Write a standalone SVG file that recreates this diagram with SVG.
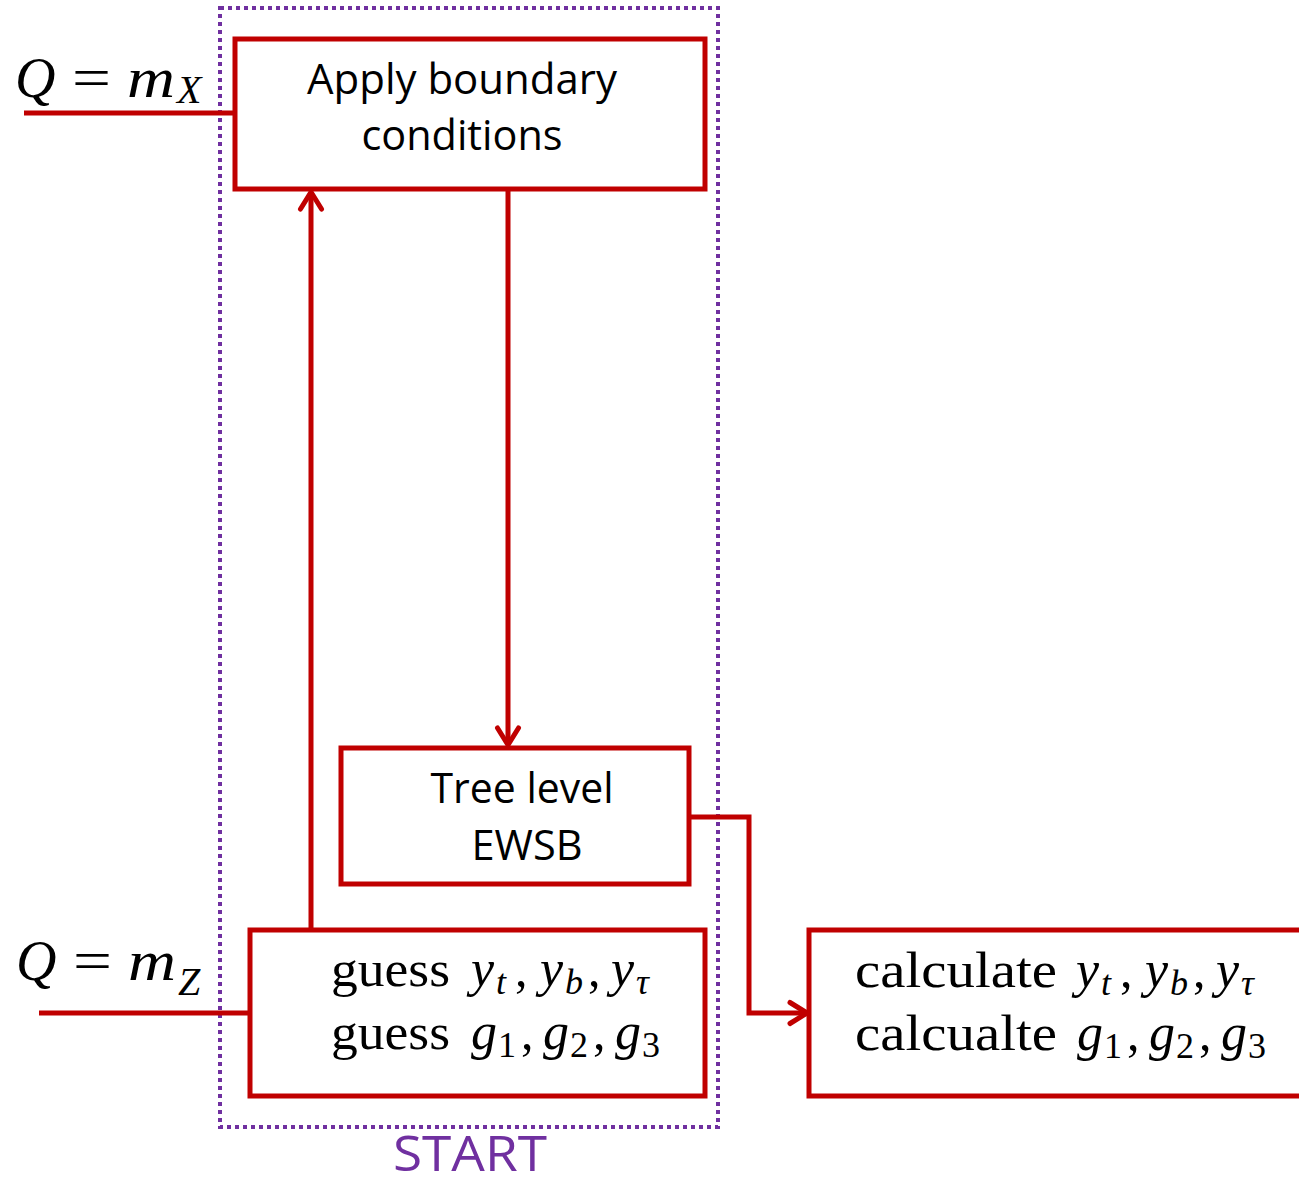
<svg xmlns="http://www.w3.org/2000/svg" width="1299" height="1186" viewBox="0 0 1299 1186">
  <defs>
    <style>
      .box { fill: #ffffff; stroke: #C00000; stroke-width: 5; }
      .wire { fill: none; stroke: #C00000; stroke-width: 5; }
      .head { fill: none; stroke: #C00000; stroke-width: 5; stroke-linecap: round; stroke-linejoin: round; }
      .frame { fill: none; stroke: #7030A0; stroke-width: 4; stroke-dasharray: 4 4; }
      .label { font-family: "Open Sans", "Liberation Sans", sans-serif; font-size: 42px; fill: #000000; }
      .rm { font-family: "Liberation Serif", "DejaVu Serif", serif; font-size: 50px; fill: #000000; }
      .it { font-family: "Liberation Serif", "DejaVu Serif", serif; font-style: italic; font-size: 52px; fill: #000000; }
      .sub { font-family: "Liberation Serif", "DejaVu Serif", serif; font-style: italic; font-size: 36px; fill: #000000; }
      .subrm { font-family: "Liberation Serif", "DejaVu Serif", serif; font-size: 36px; fill: #000000; }
      .big { font-family: "Liberation Serif", "DejaVu Serif", serif; font-size: 56px; fill: #000000; }
      .bigit { font-family: "Liberation Serif", "DejaVu Serif", serif; font-style: italic; font-size: 56px; fill: #000000; }
      .bigsub { font-family: "Liberation Serif", "DejaVu Serif", serif; font-style: italic; font-size: 40px; fill: #000000; }
    </style>
  </defs>

  <!-- dotted START frame -->
  <g id="start-frame">
    <rect class="frame" x="220" y="8" width="498" height="1119"/>
    <text x="470" y="1171" text-anchor="middle" font-family="Open Sans, Liberation Sans, sans-serif" font-size="50" fill="#7030A0" textLength="154" lengthAdjust="spacingAndGlyphs">START</text>
  </g>

  <!-- connectors -->
  <g id="connectors">
    <!-- scale Q = m_X input -->
    <line class="wire" x1="24" y1="113" x2="235" y2="113"/>
    <!-- scale Q = m_Z input -->
    <line class="wire" x1="39" y1="1013" x2="250" y2="1013"/>
    <!-- guess -> boundary conditions -->
    <line class="wire" x1="311" y1="930" x2="311" y2="193"/>
    <polyline class="head" points="300.5,209 311,192 321.5,209"/>
    <!-- boundary conditions -> tree level EWSB -->
    <line class="wire" x1="508" y1="189" x2="508" y2="744"/>
    <polyline class="head" points="497.5,728 508,745 518.5,728"/>
    <!-- tree level EWSB -> calculate -->
    <polyline class="wire" points="689,817 749,817 749,1013 805,1013"/>
    <polyline class="head" points="790,1002.5 807,1013 790,1023.5"/>
  </g>

  <!-- scale labels -->
  <g id="scale-mx">
    <text class="bigit" x="15" y="97">Q</text>
    <text class="big" x="72" y="97" textLength="39" lengthAdjust="spacingAndGlyphs">=</text>
    <text class="bigit" x="127" y="97" textLength="48" lengthAdjust="spacingAndGlyphs">m</text>
    <text class="bigsub" x="177" y="103">X</text>
  </g>
  <g id="scale-mz">
    <text class="bigit" x="16" y="980">Q</text>
    <text class="big" x="73" y="980" textLength="39" lengthAdjust="spacingAndGlyphs">=</text>
    <text class="bigit" x="128" y="980" textLength="48" lengthAdjust="spacingAndGlyphs">m</text>
    <text class="bigsub" x="178" y="995">Z</text>
  </g>

  <!-- boundary conditions node -->
  <g id="node-boundary">
    <rect class="box" x="235" y="39" width="470" height="150"/>
    <text class="label" x="462" y="94" text-anchor="middle" textLength="310" lengthAdjust="spacingAndGlyphs">Apply boundary</text>
    <text class="label" x="462" y="150" text-anchor="middle" textLength="201" lengthAdjust="spacingAndGlyphs">conditions</text>
  </g>

  <!-- tree level EWSB node -->
  <g id="node-ewsb">
    <rect class="box" x="341" y="748" width="348" height="136"/>
    <text class="label" x="522" y="803" text-anchor="middle" textLength="183" lengthAdjust="spacingAndGlyphs">Tree level</text>
    <text class="label" x="527" y="860" text-anchor="middle" textLength="111" lengthAdjust="spacingAndGlyphs">EWSB</text>
  </g>

  <!-- guess node -->
  <g id="node-guess">
    <rect class="box" x="250" y="930" width="455" height="166"/>
    <text class="rm" x="331" y="986" textLength="119" lengthAdjust="spacingAndGlyphs">guess</text>
    <text class="it" x="471" y="986">y</text>
    <text class="sub" x="496" y="994">t</text>
    <text class="rm" x="515" y="986">,</text>
    <text class="it" x="540" y="986">y</text>
    <text class="sub" x="565" y="994">b</text>
    <text class="rm" x="588" y="986">,</text>
    <text class="it" x="611" y="986">y</text>
    <text class="sub" x="636" y="994">τ</text>

    <text class="rm" x="331" y="1049" textLength="119" lengthAdjust="spacingAndGlyphs">guess</text>
    <text class="it" x="471" y="1049">g</text>
    <text class="subrm" x="498" y="1057">1</text>
    <text class="rm" x="521" y="1049">,</text>
    <text class="it" x="543" y="1049">g</text>
    <text class="subrm" x="570" y="1057">2</text>
    <text class="rm" x="593" y="1049">,</text>
    <text class="it" x="615" y="1049">g</text>
    <text class="subrm" x="642" y="1057">3</text>
  </g>

  <!-- calculate node -->
  <g id="node-calculate">
    <rect class="box" x="809" y="930" width="500" height="166"/>
    <text class="rm" x="855" y="987" textLength="202" lengthAdjust="spacingAndGlyphs">calculate</text>
    <text class="it" x="1076" y="987">y</text>
    <text class="sub" x="1101" y="995">t</text>
    <text class="rm" x="1120" y="987">,</text>
    <text class="it" x="1145" y="987">y</text>
    <text class="sub" x="1170" y="995">b</text>
    <text class="rm" x="1193" y="987">,</text>
    <text class="it" x="1216" y="987">y</text>
    <text class="sub" x="1241" y="995">τ</text>

    <text class="rm" x="855" y="1050" textLength="202" lengthAdjust="spacingAndGlyphs">calcualte</text>
    <text class="it" x="1077" y="1050">g</text>
    <text class="subrm" x="1104" y="1058">1</text>
    <text class="rm" x="1127" y="1050">,</text>
    <text class="it" x="1149" y="1050">g</text>
    <text class="subrm" x="1176" y="1058">2</text>
    <text class="rm" x="1199" y="1050">,</text>
    <text class="it" x="1221" y="1050">g</text>
    <text class="subrm" x="1248" y="1058">3</text>
  </g>
</svg>
